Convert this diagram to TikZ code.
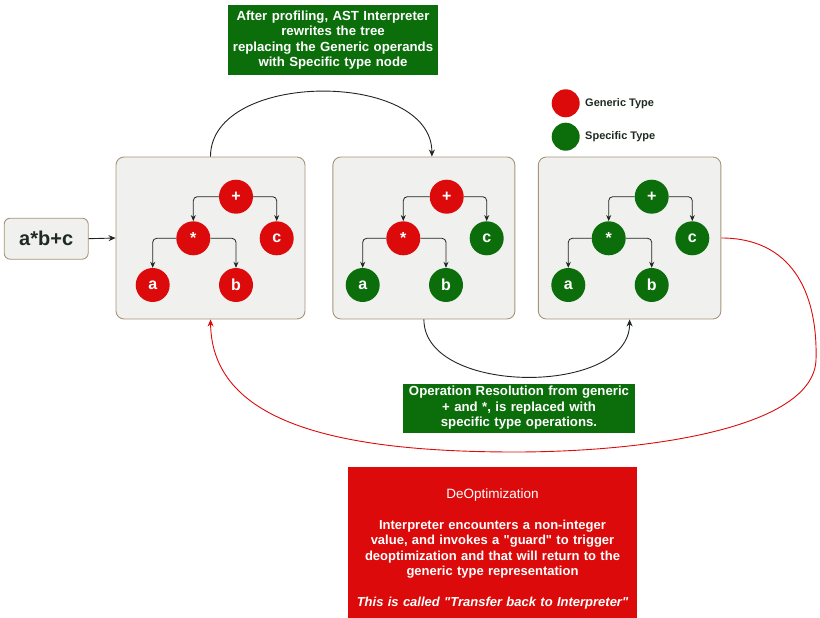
\documentclass[tikz,border=0pt]{standalone}
\usepackage{fontspec}
\setmainfont{Liberation Sans}
\usetikzlibrary{arrows.meta,calc}
\definecolor{genred}{HTML}{DC0A0A}
\definecolor{specgreen}{HTML}{0B6E0B}
\definecolor{panelfill}{HTML}{F0F0EF}
\definecolor{panelborder}{HTML}{A89478}
\definecolor{darkline}{HTML}{1E261E}
\definecolor{darktext}{HTML}{1F2A22}
\tikzset{
  panel/.style={draw=panelborder, fill=panelfill, rounded corners=8pt, line width=0.9pt, inner sep=0pt},
  tnode/.style={circle, minimum size=34pt, inner sep=0pt, text=white, font=\fontsize{16}{16}\selectfont\bfseries},
  gen/.style={tnode, fill=genred},
  spec/.style={tnode, fill=specgreen},
  tedge/.style={draw=darkline, line width=0.8pt, rounded corners=4pt, -{Stealth[length=6pt,width=5pt]}},
  greenlabel/.style={fill=specgreen, text=white, align=center, inner ysep=0pt, inner xsep=4pt, font=\fontsize{13.2}{15.5}\selectfont\bfseries},
  legtext/.style={anchor=west, text=darktext, inner sep=0pt, font=\fontsize{11}{12}\selectfont\bfseries},
}
\begin{document}
\begin{tikzpicture}[x=1pt,y=-1pt]
\useasboundingbox (0,0) rectangle (820,618);
% input box
\node[panel, rounded corners=6pt, minimum width=84pt, minimum height=41pt, text=darktext, font=\fontsize{20}{20}\selectfont\bfseries] (input) at (46.2,238.7) {a*b+c};
% panels
\node[panel, minimum width=189pt, minimum height=162pt] (pan1) at (210.5,238) {};
\node[panel, minimum width=182pt, minimum height=162pt] (pan2) at (423.9,238) {};
\node[panel, minimum width=182.5pt, minimum height=162pt] (pan3) at (629.6,238) {};
\draw[darkline, line width=0.9pt, -{Stealth[length=7pt,width=6pt]}] (input.east) -- (pan1.west);
% tree 1
\node[gen] (t1p) at (236,196.7) {+};
\node[gen] (t1s) at (193.3,238.3) {*};
\node[gen] (t1c) at (276.7,238.3) {c};
\node[gen] (t1a) at (152.7,285) {a};
\node[gen] (t1b) at (236,285) {b};
% tree 2
\node[gen] (t2p) at (446.7,196.7) {+};
\node[gen] (t2s) at (403.3,238.3) {*};
\node[spec] (t2c) at (486.7,238.3) {c};
\node[spec] (t2a) at (362.7,285) {a};
\node[spec] (t2b) at (446,285) {b};
% tree 3
\node[spec] (t3p) at (651.7,196.7) {+};
\node[spec] (t3s) at (608.7,238.3) {*};
\node[spec] (t3c) at (692.3,238.3) {c};
\node[spec] (t3a) at (568.3,285) {a};
\node[spec] (t3b) at (651.7,285) {b};
\foreach \t in {t1,t2,t3}{
  \draw[tedge] (\t p.west) -| (\t s.north);
  \draw[tedge] (\t p.east) -| (\t c.north);
  \draw[tedge] (\t s.west) -| (\t a.north);
  \draw[tedge] (\t s.east) -| (\t b.north);
}
% legend
\node[circle, fill=genred, minimum size=28pt, inner sep=0pt] (leggen) at (565.7,103.3) {};
\node[legtext] (leggent) at (585,103.3) {Generic Type};
\node[circle, fill=specgreen, minimum size=28pt, inner sep=0pt] (legspec) at (565.7,136.7) {};
\node[legtext] (legspect) at (585,136.7) {Specific Type};
% top label
\node[greenlabel, text width=202pt, minimum height=70pt] (toplabel) at (333,40) {After profiling, AST Interpreter\\rewrites the tree\\replacing the Generic operands\\with Specific type node};
\coordinate (arr2in) at ($(pan2.north)+(8,0)$);
\draw[darkline, line width=0.9pt, -{Stealth[length=7pt,width=6pt]}] (pan1.north) .. controls (210.5,70) and (432,70) .. (arr2in);
% bottom label
\node[greenlabel, text width=224pt, minimum height=49pt] (midlabel) at (519,408) {Operation Resolution from generic\\+ and *, is replaced with\\specific type operations.};
\draw[darkline, line width=0.9pt, -{Stealth[length=7pt,width=6pt]}] (pan2.south) .. controls (423.9,396) and (629.6,396) .. (pan3.south);
% red back arrow
\draw[genred, line width=0.9pt, -{Stealth[length=7pt,width=6pt]}] (pan3.east) .. controls (790,238) and (818,290) .. (816,360) .. controls (813,430) and (640,452) .. (515,452) .. controls (330,452) and (212,420) .. (pan1.south);
% deopt box
\node[fill=genred, minimum width=289pt, minimum height=151pt, inner sep=0pt] (deopt) at (492.5,542.5) {};
\node[text=white, align=center, text width=285pt, inner sep=0pt, font=\fontsize{13}{15.5}\selectfont] (deopttext) at (492.5,549) {{\fontsize{13.5}{15.5}\selectfont DeOptimization}\\[15.5pt]
{\bfseries Interpreter encounters a non-integer\\value, and invokes a \textquotedbl guard\textquotedbl{} to trigger\\deoptimization and that will return to the\\generic type representation}\\[15.5pt]
{\bfseries\itshape This is called \textquotedbl Transfer back to Interpreter\textquotedbl}};
\end{tikzpicture}
\end{document}
